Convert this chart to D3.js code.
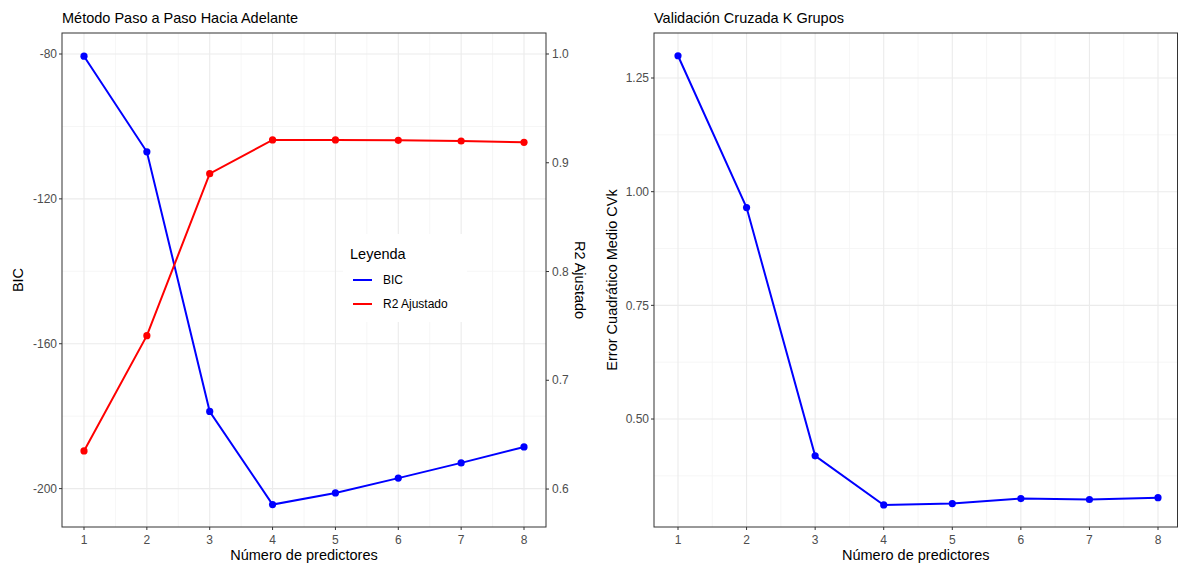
<!DOCTYPE html>
<html lang="es">
<head>
  <meta charset="UTF-8">
  <title>Selección de predictores</title>
  <script src="https://d3js.org/d3.v7.min.js"></script>
  <style>
    body { margin: 0; background: #fff; }
    svg { font-family: "Liberation Sans", Arial, sans-serif; }
  </style>
</head>
<body>
  <div id="chart"></div>
  <script>
    // valores
    const predictores = [1, 2, 3, 4, 5, 6, 7, 8]
    const bic = [-80.6, -107.0, -178.7, -204.4, -201.2, -197.1, -192.9, -188.5]
    const r2Ajustado = [0.635, 0.741, 0.890, 0.921, 0.921, 0.9206, 0.920, 0.9188]
    const errorCV = [1.299, 0.965, 0.419, 0.311, 0.314, 0.325, 0.323, 0.327]

    const bicTicks = [-200, -160, -120, -80]
    const r2Ticks = [0.6, 0.7, 0.8, 0.9, 1.0]
    const cvTicks = [0.50, 0.75, 1.00, 1.25]
    const leyenda = ['BIC', 'R2 Ajustado']
    const colores = ['blue', 'red']

    const W = 1180, H = 565
    const plotTop = 33, plotBottom = 527
    const tickSize = 12

    const svg = d3.select('#chart').append('svg')
      .attr('width', W)
      .attr('height', H)

    const fmtMinus = d => String(d)

    function panel (opts) {
      const g = svg.append('g')
      const x = d3.scaleLinear().domain([0.65, 8.35]).range([opts.x0, opts.x1])
      const y = opts.y

      // rejilla
      const minorX = d3.range(1.5, 8, 1)
      g.selectAll('.mx').data(minorX).enter().append('line')
        .attr('x1', d => x(d)).attr('x2', d => x(d))
        .attr('y1', plotTop).attr('y2', plotBottom)
        .attr('stroke', '#f4f4f4').attr('stroke-width', 0.8)
      g.selectAll('.my').data(opts.minorY).enter().append('line')
        .attr('x1', opts.x0).attr('x2', opts.boxRight)
        .attr('y1', d => y(d)).attr('y2', d => y(d))
        .attr('stroke', '#f4f4f4').attr('stroke-width', 0.8)
      g.selectAll('.gx').data(predictores).enter().append('line')
        .attr('x1', d => x(d)).attr('x2', d => x(d))
        .attr('y1', plotTop).attr('y2', plotBottom)
        .attr('stroke', '#ebebeb').attr('stroke-width', 1.1)
      g.selectAll('.gy').data(opts.yTicks).enter().append('line')
        .attr('x1', opts.x0).attr('x2', opts.boxRight)
        .attr('y1', d => y(d)).attr('y2', d => y(d))
        .attr('stroke', '#ebebeb').attr('stroke-width', 1.1)

      // eje x
      const xa = g.append('g')
      xa.selectAll('line').data(predictores).enter().append('line')
        .attr('x1', d => x(d)).attr('x2', d => x(d))
        .attr('y1', plotBottom).attr('y2', plotBottom + 3)
        .attr('stroke', '#333')
      xa.selectAll('text').data(predictores).enter().append('text')
        .attr('x', d => x(d)).attr('y', plotBottom + 17)
        .attr('text-anchor', 'middle')
        .attr('font-size', tickSize).attr('fill', '#4d4d4d')
        .text(d => d)
      g.append('text')
        .attr('x', (opts.x0 + opts.boxRight) / 2).attr('y', 560)
        .attr('text-anchor', 'middle')
        .attr('font-size', 14.5).attr('fill', '#000')
        .text('Número de predictores')

      // eje y izquierdo
      const ya = g.append('g')
      ya.selectAll('line').data(opts.yTicks).enter().append('line')
        .attr('x1', opts.x0 - 3).attr('x2', opts.x0)
        .attr('y1', d => y(d)).attr('y2', d => y(d))
        .attr('stroke', '#333')
      ya.selectAll('text').data(opts.yTicks).enter().append('text')
        .attr('x', opts.x0 - 5).attr('y', d => y(d)).attr('dy', '0.35em')
        .attr('text-anchor', 'end')
        .attr('font-size', tickSize).attr('fill', '#4d4d4d')
        .text(opts.yFmt)
      g.append('text')
        .attr('transform', `translate(${opts.yTitleX}, ${(plotTop + plotBottom) / 2}) rotate(-90)`)
        .attr('text-anchor', 'middle')
        .attr('font-size', 14.5).attr('fill', '#000')
        .text(opts.yTitle)

      // título
      g.append('text')
        .attr('x', opts.x0).attr('y', 23)
        .attr('font-size', 14.5).attr('fill', '#000')
        .text(opts.title)

      return { g, x }
    }

    function serie (g, x, y, vals, color) {
      const line = d3.line()
        .x((d, i) => x(predictores[i]))
        .y(d => y(d))
      g.append('path')
        .datum(vals)
        .attr('d', line)
        .attr('fill', 'none')
        .attr('stroke', color)
        .attr('stroke-width', 2)
      g.selectAll(null).data(vals).enter().append('circle')
        .attr('cx', (d, i) => x(predictores[i]))
        .attr('cy', d => y(d))
        .attr('r', 3.6)
        .attr('fill', color)
    }

    // ---- panel izquierdo ----
    const yBic = d3.scaleLinear().domain([-210.6, -74.2]).range([plotBottom, plotTop])
    const yR2 = d3.scaleLinear().domain([0.5651, 1.0193]).range([plotBottom, plotTop])

    const left = panel({
      x0: 62, x1: 546, boxRight: 546,
      y: yBic, yTicks: bicTicks, minorY: [-180, -140, -100],
      yFmt: fmtMinus, yTitle: 'BIC', yTitleX: 23,
      title: 'Método Paso a Paso Hacia Adelante'
    })

    // eje y secundario
    const y2 = left.g.append('g')
    y2.selectAll('line').data(r2Ticks).enter().append('line')
      .attr('x1', 546).attr('x2', 549)
      .attr('y1', d => yR2(d)).attr('y2', d => yR2(d))
      .attr('stroke', '#333')
    y2.selectAll('text').data(r2Ticks).enter().append('text')
      .attr('x', 552).attr('y', d => yR2(d)).attr('dy', '0.35em')
      .attr('font-size', tickSize).attr('fill', '#4d4d4d')
      .text(d3.format('.1f'))
    left.g.append('text')
      .attr('transform', `translate(575, ${(plotTop + plotBottom) / 2}) rotate(90)`)
      .attr('text-anchor', 'middle')
      .attr('font-size', 14.5).attr('fill', '#000')
      .text('R2 Ajustado')

    serie(left.g, left.x, yBic, bic, 'blue')
    serie(left.g, left.x, yR2, r2Ajustado, 'red')

    // leyenda
    const lg = left.g.append('g').attr('transform', 'translate(343, 234)')
    lg.append('rect')
      .attr('width', 124).attr('height', 88)
      .attr('fill', '#fff')
    lg.append('text')
      .attr('x', 7).attr('y', 25)
      .attr('font-size', 14.5).attr('fill', '#000')
      .text('Leyenda')
    const items = lg.selectAll('.item').data(leyenda).enter().append('g')
      .attr('transform', (d, i) => `translate(0, ${46 + i * 24})`)
    items.append('line')
      .attr('x1', 10).attr('x2', 29)
      .attr('stroke', (d, i) => colores[i])
      .attr('stroke-width', 2)
    items.append('text')
      .attr('x', 40).attr('dy', '0.35em')
      .attr('font-size', tickSize).attr('fill', '#000')
      .text(d => d)

    // borde
    left.g.append('rect')
      .attr('x', 62).attr('y', plotTop)
      .attr('width', 546 - 62).attr('height', plotBottom - plotTop)
      .attr('fill', 'none').attr('stroke', '#333').attr('stroke-width', 1)

    // ---- panel derecho ----
    const yCv = d3.scaleLinear().domain([0.2625, 1.349]).range([plotBottom, plotTop])
    const right = panel({
      x0: 654, x1: 1182, boxRight: 1177.5,
      y: yCv, yTicks: cvTicks, minorY: [0.375, 0.625, 0.875, 1.125],
      yFmt: d3.format('.2f'), yTitle: 'Error Cuadrático Medio CVk', yTitleX: 617,
      title: 'Validación Cruzada K Grupos'
    })
    serie(right.g, right.x, yCv, errorCV, 'blue')
    right.g.append('rect')
      .attr('x', 654).attr('y', plotTop)
      .attr('width', 1177.5 - 654).attr('height', plotBottom - plotTop)
      .attr('fill', 'none').attr('stroke', '#333').attr('stroke-width', 1)
  </script>
</body>
</html>
